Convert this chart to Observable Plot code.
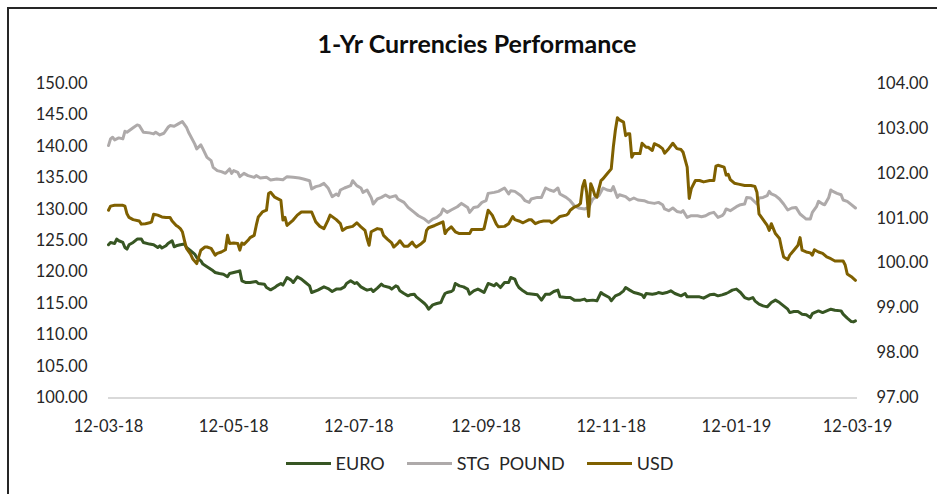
<!DOCTYPE html>
<html>
<head>
<meta charset="utf-8">
<script src="https://cdn.jsdelivr.net/npm/d3@7"></script>
<script src="https://cdn.jsdelivr.net/npm/@observablehq/plot@0.6"></script>
<style>
  html, body { margin: 0; padding: 0; background: #fff; width: 937px; height: 494px; overflow: hidden; }
  body { position: relative; font-family: Lato, "Open Sans", sans-serif; color: #262626; }
  #frame { position: absolute; left: 7px; top: 7px; width: 1200px; height: 700px; border-left: 2px solid #262626; border-top: 2px solid #262626; }
  #chart { position: absolute; left: 0; top: 0; }
  #title { position: absolute; left: 0; width: 954px; top: 29px; text-align: center; font-size: 25px; font-weight: bold; line-height: 28px; color: #0d0d0d; }
  #legend { position: absolute; left: 0; width: 959px; top: 453px; display: flex; justify-content: center; align-items: center; font-size: 18px; line-height: 20px; color: #262626; }
  .item { display: flex; align-items: center; margin: 0 11px; white-space: pre; }
  .swatch { width: 45px; height: 3px; margin-right: 5px; }
</style>
</head>
<body>
<div id="frame"></div>
<div id="chart"></div>
<div id="title">1-Yr Currencies Performance</div>
<div id="legend"></div>
<script>
// ---------- data (days since 12-03-2018, values) ----------
const startDate = "2018-03-12";
const endDate = "2019-03-12";
const xTickDates = ["2018-03-12","2018-05-12","2018-07-12","2018-09-12","2018-11-12","2019-01-12","2019-03-12"];
const leftTicks = [100,105,110,115,120,125,130,135,140,145,150];
const rightTicks = [97,98,99,100,101,102,103,104];
const seriesNames = ["EURO", "STG  POUND", "USD"];
const seriesColors = ["#375623", "#AEAAAA", "#7F6000"];

const euroDay = [0,1,3,4,5,7,8,9,10,12,14,16,17,20,22,24,25,26,28,29,31,32,33,35,37,38,40,42,43,45,46,48,51,52,54,56,58,59,61,63,64,65,67,69,72,73,76,77,79,81,82,84,85,87,89,90,92,94,96,98,99,102,105,107,109,111,113,115,116,118,120,121,123,125,126,128,129,131,133,134,137,138,140,141,142,144,146,147,149,150,152,154,155,156,158,160,162,163,164,165,167,168,169,171,173,175,176,178,180,181,183,185,186,188,189,191,193,195,196,198,199,200,202,204,207,209,211,213,215,217,219,220,223,225,227,230,232,233,236,238,240,241,244,245,247,249,251,252,254,256,258,260,261,262,265,267,268,270,272,274,276,279,281,282,285,288,290,293,295,297,299,301,302,304,306,308,310,312,314,315,317,319,321,323,325,327,329,331,332,334,336,338,340,342,343,344,346,348,350,352,354,357,358,360,362,363,364];
const euroValue = [124.36,124.73,124.57,125.27,125.0,124.73,123.93,123.68,124.36,124.73,125.27,125.27,124.73,124.47,124.36,123.93,124.2,123.84,124.2,124.57,125.0,124.04,124.2,124.36,124.47,123.93,123.41,122.88,122.34,121.81,121.29,120.86,120.22,119.95,119.79,119.69,119.27,119.79,119.95,120.11,120.22,118.63,118.36,118.36,118.52,118.2,118.1,117.56,117.2,117.56,117.83,118.2,117.95,119.16,118.74,118.36,119.27,118.9,118.36,117.83,116.77,117.15,117.67,117.4,116.93,117.31,117.31,117.67,118.2,118.63,118.2,118.36,117.67,117.31,117.15,117.31,116.93,117.47,118.1,117.83,117.56,117.31,117.83,117.67,117.04,116.61,116.24,116.4,116.51,116.08,115.56,115.02,114.65,114.12,114.81,115.02,115.18,115.97,116.61,116.77,116.93,117.15,118.2,117.83,117.67,117.31,116.51,117.04,117.31,117.15,116.77,118.2,118.1,117.83,118.2,117.56,118.36,118.36,119.16,118.9,118.1,117.56,117.04,116.61,116.51,116.4,115.56,116.51,116.51,116.93,117.15,116.08,115.97,115.97,115.56,115.56,115.72,115.45,115.56,115.45,116.77,116.51,115.97,115.45,116.24,116.51,117.04,117.56,117.15,116.77,116.61,116.4,115.97,116.61,116.51,116.61,116.77,116.61,116.77,117.04,116.61,116.24,116.61,116.08,116.08,116.08,115.87,116.4,116.51,116.24,116.4,116.61,116.77,117.15,117.31,116.77,115.97,115.72,115.97,115.45,114.92,114.65,114.49,115.17,115.56,115.17,114.65,114.12,113.58,113.74,113.74,113.33,113.22,112.79,113.42,113.58,113.85,113.58,113.85,114.12,113.96,113.85,113.33,112.69,112.15,112.1,112.26];

const poundDay = [0,1,2,3,5,7,8,9,12,14,15,17,20,22,23,25,27,29,30,32,34,36,38,39,42,43,45,46,48,50,51,53,55,57,59,60,61,63,64,66,68,71,72,74,77,79,82,85,87,90,93,95,98,99,101,103,105,107,109,111,112,113,115,118,119,121,123,124,126,128,129,131,133,135,137,140,141,144,146,149,151,154,156,158,160,162,163,165,167,170,172,173,175,176,178,180,182,184,185,188,190,193,195,196,198,201,203,205,206,209,211,213,215,217,219,220,223,225,227,229,232,234,236,239,241,243,245,246,248,249,252,254,256,258,261,263,266,268,270,271,273,275,277,279,280,282,284,287,289,291,293,295,297,299,300,301,303,306,308,310,311,313,314,316,317,319,321,322,323,325,327,329,331,333,335,337,339,340,342,343,345,346,348,349,351,352,353,355,357,358,360,362,364];
const poundValue = [140.13,141.19,141.45,141.03,141.35,141.19,142.4,142.25,142.95,143.42,143.31,142.25,142.15,141.99,142.25,141.83,142.09,143.04,143.31,143.2,143.58,143.95,143.04,142.25,140.4,139.6,140.24,139.6,138.26,137.74,136.67,136.15,135.99,135.72,136.42,135.72,136.15,135.88,135.19,135.72,135.35,135.08,135.35,134.98,135.08,134.67,134.82,134.71,135.19,135.08,134.98,134.82,134.55,133.23,133.6,133.76,134.12,133.39,132.01,132.44,132.17,133.07,133.39,133.76,134.55,133.76,133.39,132.69,133.07,131.89,130.84,131.64,131.89,132.28,131.89,132.17,131.64,131.1,130.3,129.51,128.98,128.45,127.91,128.45,128.71,129.25,130.05,129.51,129.89,130.41,130.94,130.73,130.3,129.51,130.3,130.41,131.1,131.37,132.53,132.69,132.85,133.39,132.44,132.96,132.85,132.17,131.37,131.1,131.64,131.89,131.89,133.39,133.07,132.85,133.39,132.44,131.89,131.37,130.57,130.21,130.05,130.3,131.64,132.17,133.39,133.07,132.96,133.6,131.89,132.32,132.01,131.48,131.8,131.48,131.37,131.1,130.94,131.1,130.73,130.05,129.78,130.21,129.66,129.51,129.78,128.71,128.98,128.98,128.82,128.98,129.35,129.51,128.71,128.98,129.35,130.05,129.78,130.41,130.73,130.84,131.89,131.8,131.48,130.84,131.8,131.89,132.17,132.85,132.44,132.17,131.64,130.84,129.89,130.21,130.3,129.25,128.71,128.45,128.45,129.51,130.41,131.26,130.84,130.73,131.89,133.07,132.85,132.53,132.32,131.48,131.26,130.73,130.21];

const usdDay = [0,1,3,4,7,8,9,10,12,15,16,18,20,21,22,24,26,28,30,31,33,34,35,36,37,38,40,41,43,44,45,47,48,50,52,53,55,57,58,59,61,63,64,65,66,68,69,71,72,73,75,77,78,79,81,84,85,86,87,90,92,94,96,99,101,103,105,107,108,111,113,114,116,119,121,123,125,126,127,128,131,133,134,136,138,139,141,142,144,146,148,149,150,152,154,155,156,159,161,163,164,165,167,169,171,173,176,177,180,182,183,184,185,187,189,190,193,195,197,198,200,202,205,206,208,210,212,215,216,218,220,223,224,225,227,229,230,231,232,233,234,235,236,237,238,239,240,241,243,245,246,247,248,249,251,252,253,254,255,256,258,259,260,262,263,265,266,268,270,271,273,275,277,279,280,282,283,284,286,288,290,293,295,296,297,300,301,302,303,305,307,310,313,315,316,317,319,321,322,323,325,327,328,329,331,332,334,336,337,338,340,342,343,344,346,348,350,352,354,356,358,359,360,362,364];
const usdValue = [101.18,101.27,101.29,101.29,101.29,101.27,101.10,101.02,100.97,100.94,100.87,100.88,100.90,100.92,101.09,101.07,101.03,101.02,101.02,100.94,100.84,100.81,100.77,100.70,100.51,100.33,100.20,100.10,99.99,100.14,100.29,100.36,100.36,100.33,100.18,100.22,100.25,100.30,100.62,100.44,100.45,100.44,100.29,100.45,100.42,100.51,100.57,100.62,100.84,101.03,101.14,101.18,101.55,101.58,101.47,101.40,100.96,101.02,100.84,100.96,101.07,101.14,101.14,101.14,100.92,100.82,100.77,100.96,101.07,100.97,100.88,100.73,100.79,100.82,100.90,100.81,100.73,100.55,100.40,100.70,100.77,100.75,100.62,100.53,100.45,100.36,100.44,100.50,100.38,100.38,100.47,100.40,100.36,100.42,100.50,100.73,100.79,100.84,100.88,100.92,100.66,100.73,100.81,100.70,100.66,100.66,100.66,100.75,100.75,100.75,100.77,100.97,101.18,101.07,100.87,100.81,100.82,100.88,101.04,100.97,100.94,100.90,100.97,100.97,100.88,100.92,100.94,100.94,100.90,100.96,101.04,101.07,101.10,101.18,101.25,101.29,101.33,101.70,101.84,101.58,101.04,101.77,101.66,101.51,101.47,101.66,101.84,101.88,101.99,102.10,102.58,102.96,103.24,103.19,103.14,102.84,102.88,102.88,102.36,102.44,102.44,102.44,102.67,102.58,102.58,102.51,102.66,102.62,102.55,102.45,102.55,102.67,102.55,102.53,102.47,102.14,101.44,101.66,101.84,101.84,101.81,101.84,101.84,102.16,102.18,102.14,101.96,101.98,101.86,101.78,101.76,101.73,101.73,101.71,101.58,101.10,100.97,100.84,100.73,100.88,100.66,100.55,100.33,100.14,100.08,100.18,100.29,100.40,100.57,100.29,100.25,100.23,100.18,100.30,100.25,100.22,100.14,100.10,100.05,100.05,100.05,99.96,99.76,99.70,99.62];

// ---------- build ----------
const t0 = new Date(startDate + "T00:00:00Z");
const toDate = d => d3.utcDay.offset(t0, d);
// USD is on the secondary (right) axis: map its domain onto the left axis domain
const usdToLeft = d3.scaleLinear().domain([97, 104]).range([100, 150]);

const euro = euroDay.map((d, i) => ({date: toDate(d), value: euroValue[i]}));
const pound = poundDay.map((d, i) => ({date: toDate(d), value: poundValue[i]}));
const usd = usdDay.map((d, i) => ({date: toDate(d), value: usdToLeft(usdValue[i])}));

const fmt2 = d3.format(".2f");
const labelFont = 16.5;

const chart = Plot.plot({
  width: 937,
  height: 445,
  marginLeft: 108,
  marginRight: 80,
  marginTop: 83,
  marginBottom: 47.5,
  style: {fontFamily: "Lato, 'Open Sans', sans-serif", color: "#262626", background: "transparent", overflow: "visible"},
  x: {type: "utc", domain: [new Date(startDate + "T00:00:00Z"), new Date(endDate + "T00:00:00Z")]},
  y: {domain: [100, 150]},
  marks: [
    Plot.ruleY([100], {stroke: "#D9D9D9", strokeWidth: 2}),
    Plot.axisY({ticks: leftTicks, anchor: "left", tickSize: 0, tickPadding: 21, tickFormat: fmt2, fontSize: labelFont, label: null}),
    Plot.axisY({ticks: rightTicks.map(usdToLeft), anchor: "right", tickSize: 0, tickPadding: 19, tickFormat: v => fmt2(usdToLeft.invert(v)), fontSize: labelFont, label: null}),
    Plot.axisX({ticks: xTickDates.map(s => new Date(s + "T00:00:00Z")), anchor: "bottom", tickSize: 0, tickPadding: 22, tickFormat: d3.utcFormat("%d-%m-%y"), fontSize: labelFont, label: null}),
    Plot.line(euro, {x: "date", y: "value", stroke: seriesColors[0], strokeWidth: 3, strokeLinejoin: "round"}),
    Plot.line(pound, {x: "date", y: "value", stroke: seriesColors[1], strokeWidth: 3, strokeLinejoin: "round"}),
    Plot.line(usd, {x: "date", y: "value", stroke: seriesColors[2], strokeWidth: 3, strokeLinejoin: "round"})
  ]
});
document.getElementById("chart").appendChild(chart);

const legend = document.getElementById("legend");
seriesNames.forEach((name, i) => {
  const item = document.createElement("div");
  item.className = "item";
  const sw = document.createElement("span");
  sw.className = "swatch";
  sw.style.background = seriesColors[i];
  const label = document.createElement("span");
  label.textContent = name;
  item.appendChild(sw);
  item.appendChild(label);
  legend.appendChild(item);
});
</script>
</body>
</html>
